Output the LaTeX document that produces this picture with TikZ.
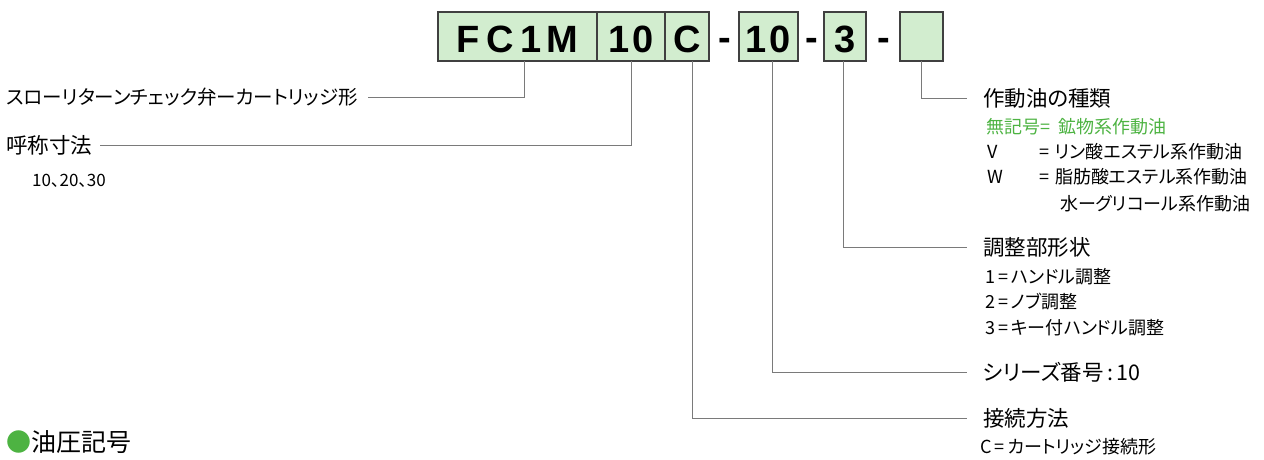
\documentclass[tikz,border=0pt]{standalone}
\usepackage{fontspec}
\setmainfont{Noto Sans CJK JP}[RawFeature=+palt]
\newfontfamily\codefont{Liberation Sans}
\usetikzlibrary{positioning}

\definecolor{codefill}{HTML}{D2EDCF}
\definecolor{codeline}{HTML}{404040}
\definecolor{leadgray}{HTML}{7A7A7A}
\definecolor{oilgreen}{HTML}{4DB342}

\begin{document}
\begin{tikzpicture}[
  x=1pt, y=-1pt,
  codebox/.style={draw=codeline, line width=1.3pt, fill=codefill, minimum height=49pt,
    inner sep=0pt, outer sep=0pt, text height=32pt, text depth=0pt,
    font=\codefont\bfseries\fontsize{38}{38}\selectfont},
  dashsym/.style={inner sep=0pt, yshift=-8pt, font=\codefont\bfseries\fontsize{38}{38}\selectfont},
  lead/.style={draw=leadgray, line width=0.9pt},
  head/.style={anchor=west, inner sep=0pt, font=\fontsize{21.5}{26}\selectfont},
  item/.style={anchor=west, inner sep=0pt, font=\fontsize{18}{22}\selectfont}
]
\useasboundingbox (0,0) rectangle (1264,460);

% model code boxes
\node[codebox, minimum width=159pt] (fc1m) at (517.5,36.5) {F\kern7pt C\kern6pt 1\kern5pt M};
\node[codebox, minimum width=68pt, right=0pt of fc1m] (size) {1\kern3pt 0};
\node[codebox, minimum width=44pt, right=0pt of size] (conn) {C};
\node[codebox, minimum width=59pt, right=30pt of conn] (series) {1\kern3pt 0};
\node[codebox, minimum width=42pt, right=26pt of series] (adj) {3};
\node[codebox, minimum width=43pt, right=34pt of adj] (oil) {};
\node[dashsym, right=9pt of conn] (d1) {-};
\node[dashsym, right=7pt of series] (d2) {-};
\node[dashsym, right=11pt of adj] (d3) {-};

% left labels
\node[head, font=\fontsize{19.5}{24}\selectfont] (lbltype) at (6,97) {スローリターンチェック弁ーカートリッジ形};
\node[head] (lblsize) at (6,145) {呼称寸法};
\node[item, font=\fontsize{17}{20}\selectfont] (sizes) at (32,181) {10、20、30};

% right labels
\node[head] (lbloil) at (983,98) {作動油の種類};
\node[item, text=oilgreen] (oil0) at (986,127) {無記号=\kern8pt 鉱物系作動油};
\node[item] (oilv) at (987,152) {\makebox[52pt][l]{V}=\kern6pt リン酸エステル系作動油};
\node[item] (oilw) at (987,177) {\makebox[52pt][l]{W}=\kern6pt 脂肪酸エステル系作動油};
\node[item] (oilg) at (1060,204) {水ーグリコール系作動油};

\node[head] (lbladj) at (983,247) {調整部形状};
\node[item] (adj1) at (985,277) {1\,=\,ハンドル調整};
\node[item] (adj2) at (985,302) {2\,=\,ノブ調整};
\node[item] (adj3) at (985,328) {3\,=\,キー付ハンドル調整};

\node[head] (lblseries) at (983,372) {シリーズ番号\,:\,10};
\node[head] (lblconn) at (983,418) {接続方法};
\node[item] (conn1) at (980,447) {C\,=\,カートリッジ接続形};

\node[anchor=west, inner sep=0pt, font=\fontsize{25}{30}\selectfont] (symtitle) at (6,442)
  {\textcolor{oilgreen}{●}油圧記号};

% leader lines
\draw[lead] ([xshift=6.5pt]fc1m.south) |- ([xshift=10pt]lbltype.east);
\draw[lead] (size.south) |- ([xshift=8pt]lblsize.east);
\draw[lead] ([xshift=5pt]conn.south) |- ([xshift=-16pt]lblconn.west);
\draw[lead] ([xshift=3.5pt]series.south) |- ([xshift=-16pt]lblseries.west);
\draw[lead] ([xshift=-2pt]adj.south) |- ([xshift=-16pt]lbladj.west);
\draw[lead] (oil.south) |- ([xshift=-16pt]lbloil.west);
\end{tikzpicture}
\end{document}
